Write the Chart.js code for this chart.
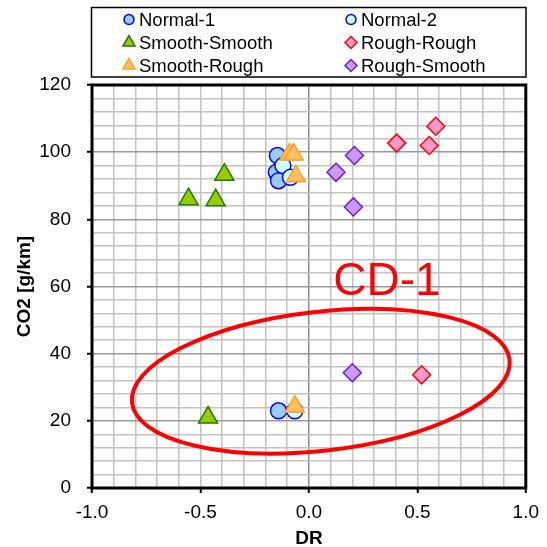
<!DOCTYPE html>
<html>
<head>
<meta charset="utf-8">
<script src="https://cdn.jsdelivr.net/npm/chart.js@4.4.1/dist/chart.umd.min.js"></script>
<style>
  html, body { margin: 0; padding: 0; background: #fff; }
  #wrap { width: 547px; height: 547px; }
</style>
</head>
<body>
<div id="wrap"><canvas id="co2-chart" width="547" height="547"></canvas></div>
<script>
// Series data: DR on x, CO2 [g/km] on y
const seriesNames = ['Normal-1', 'Normal-2', 'Smooth-Smooth', 'Rough-Rough', 'Smooth-Rough', 'Rough-Smooth'];

const normal1X = [-0.145, -0.15, -0.14, -0.14];
const normal1Y = [99, 94, 91.5, 23];
const normal2X = [-0.12, -0.085, -0.065];
const normal2Y = [96, 92.5, 23];
const smoothSmoothX = [-0.555, -0.43, -0.39, -0.465];
const smoothSmoothY = [86, 85.7, 93.3, 21];
const roughRoughX = [0.585, 0.405, 0.555, 0.52];
const roughRoughY = [107.7, 102.7, 102, 33.7];
const smoothRoughX = [-0.09, -0.07, -0.06, -0.065];
const smoothRoughY = [99.3, 99.3, 92.8, 24.2];
const roughSmoothX = [0.21, 0.125, 0.205, 0.2];
const roughSmoothY = [99, 94, 83.7, 34.3];

const xTickStep = 0.1;
const yTickStep = 4;

const FONT = '"Liberation Sans", Arial, sans-serif';
Chart.defaults.font.family = FONT;

function zip(xs, ys) {
  return xs.map((x, i) => ({ x: x, y: ys[i] }));
}

const seriesPoints = [
  zip(normal1X, normal1Y),
  zip(normal2X, normal2Y),
  zip(smoothSmoothX, smoothSmoothY),
  zip(roughRoughX, roughRoughY),
  zip(smoothRoughX, smoothRoughY),
  zip(roughSmoothX, roughSmoothY)
];

// marker look per series (plot radius / legend radius)
const markerStyles = [
  { style: 'circle',   r: 8,  lr: 5, fill: '#99CCFF', line: '#0000FF' },
  { style: 'circle',   r: 8,  lr: 5, fill: '#CCFFFF', line: '#0000FF' },
  { style: 'triangle', r: 11, lr: 7, fill: '#99CC00', line: '#1E7A00' },
  { style: 'rectRot',  r: 9,  lr: 6, fill: '#FF99CC', line: '#FF0000' },
  { style: 'triangle', r: 11, lr: 7, fill: '#FFC15E', line: '#FFA020' },
  { style: 'rectRot',  r: 9,  lr: 6, fill: '#CC99FF', line: '#6A1ECC' }
];

const datasets = seriesNames.map((name, i) => ({
  label: name,
  data: seriesPoints[i],
  pointStyle: markerStyles[i].style,
  pointRadius: markerStyles[i].r,
  pointHoverRadius: markerStyles[i].r,
  pointBorderWidth: 1.5,
  backgroundColor: markerStyles[i].fill,
  borderColor: markerStyles[i].line,
  legendRadius: markerStyles[i].lr,
  order: -i, // later series on top
  showLine: false
}));

// two-column boxed legend above the plot
const boxLegend = {
  id: 'boxLegend',
  afterDraw(chart) {
    const ctx = chart.ctx;
    ctx.save();
    ctx.fillStyle = '#fff';
    ctx.fillRect(91, 7, 435, 70);
    ctx.lineWidth = 1.5;
    ctx.strokeStyle = '#000';
    ctx.strokeRect(91.5, 7.5, 434.5, 69.5);
    ctx.font = '18.5px ' + FONT;
    ctx.textBaseline = 'middle';
    ctx.textAlign = 'left';
    chart.data.datasets.forEach((ds, i) => {
      const col = i % 2;
      const row = Math.floor(i / 2);
      const mx = col ? 351 : 129;
      const my = 19.5 + row * 23;
      ctx.fillStyle = ds.backgroundColor;
      ctx.strokeStyle = ds.borderColor;
      ctx.lineWidth = 1.5;
      Chart.helpers.drawPoint(ctx, {
        pointStyle: ds.pointStyle, radius: ds.legendRadius, rotation: 0, borderWidth: 1.5
      }, mx, my);
      ctx.fillStyle = '#000';
      ctx.fillText(ds.label, mx + 10, my + 1);
    });
    ctx.restore();
  }
};

// plot frame, the CD-1 ellipse and its label
const plotDecor = {
  id: 'plotDecor',
  beforeDatasetsDraw(chart) {
    const a = chart.chartArea;
    const ctx = chart.ctx;
    ctx.save();
    ctx.lineWidth = 3;
    ctx.strokeStyle = '#000';
    ctx.strokeRect(a.left, a.top, a.right - a.left, a.bottom - a.top);
    ctx.restore();
  },
  afterDatasetsDraw(chart) {
    const xs = chart.scales.x;
    const ys = chart.scales.y;
    const ctx = chart.ctx;
    ctx.save();
    ctx.beginPath();
    ctx.ellipse(xs.getPixelForValue(0.055), ys.getPixelForValue(31.8), 190, 69.5, -6.5 * Math.PI / 180, 0, Math.PI * 2);
    ctx.lineWidth = 4;
    ctx.strokeStyle = '#FF0000';
    ctx.stroke();
    ctx.fillStyle = '#FF0000';
    ctx.font = '46px ' + FONT;
    ctx.textAlign = 'left';
    ctx.textBaseline = 'alphabetic';
    ctx.fillText('CD-1', xs.getPixelForValue(0.112), ys.getPixelForValue(57.4));
    ctx.restore();
  }
};

const isXMajor = v => Math.abs(Math.round(v * 10) % 5) === 0;
const isYMajor = v => Math.round(v) % 20 === 0;

new Chart(document.getElementById('co2-chart'), {
  type: 'scatter',
  data: { datasets: datasets },
  options: {
    responsive: false,
    animation: false,
    layout: { padding: { top: 85, right: 19, left: 0, bottom: 0 } },
    plugins: {
      legend: { display: false },
      tooltip: { enabled: false }
    },
    scales: {
      x: {
        type: 'linear',
        min: -1,
        max: 1,
        afterFit(scale) { scale.height = 59; },
        border: { display: false },
        ticks: {
          stepSize: xTickStep,
          autoSkip: false,
          maxRotation: 0,
          padding: 8,
          color: '#000',
          font: { size: 19 },
          callback: v => isXMajor(v) ? (Math.abs(v) < 1e-9 ? '0.0' : v.toFixed(1)) : ''
        },
        grid: {
          color: c => (c.tick && Math.abs(c.tick.value) < 1e-9) ? '#8c8c8c' : '#c2c2c2',
          lineWidth: 1.5,
          tickLength: 5,
          tickWidth: 2,
          tickColor: c => (c.tick && isXMajor(c.tick.value)) ? '#000' : 'rgba(0,0,0,0)'
        },
        title: {
          display: true,
          text: 'DR',
          color: '#000',
          font: { size: 19, weight: 'bold', lineHeight: 1 },
          padding: { top: 0, bottom: -1 }
        }
      },
      y: {
        type: 'linear',
        min: 0,
        max: 120,
        afterFit(scale) { scale.width = 92; },
        border: { display: false },
        ticks: {
          stepSize: yTickStep,
          autoSkip: false,
          padding: 16,
          color: '#000',
          font: { size: 19 },
          callback: v => isYMajor(v) ? String(Math.round(v)) : ''
        },
        grid: {
          color: c => (c.tick && isYMajor(c.tick.value)) ? '#9a9a9a' : '#c2c2c2',
          lineWidth: 1.5,
          tickLength: 5,
          tickWidth: 2,
          tickColor: c => (c.tick && isYMajor(c.tick.value)) ? '#000' : 'rgba(0,0,0,0)'
        },
        title: {
          display: true,
          text: 'CO2 [g/km]',
          color: '#000',
          font: { size: 19, weight: 'bold', lineHeight: 1 },
          padding: { top: 15, bottom: 0 }
        }
      }
    }
  },
  plugins: [plotDecor, boxLegend]
});
</script>
</body>
</html>
